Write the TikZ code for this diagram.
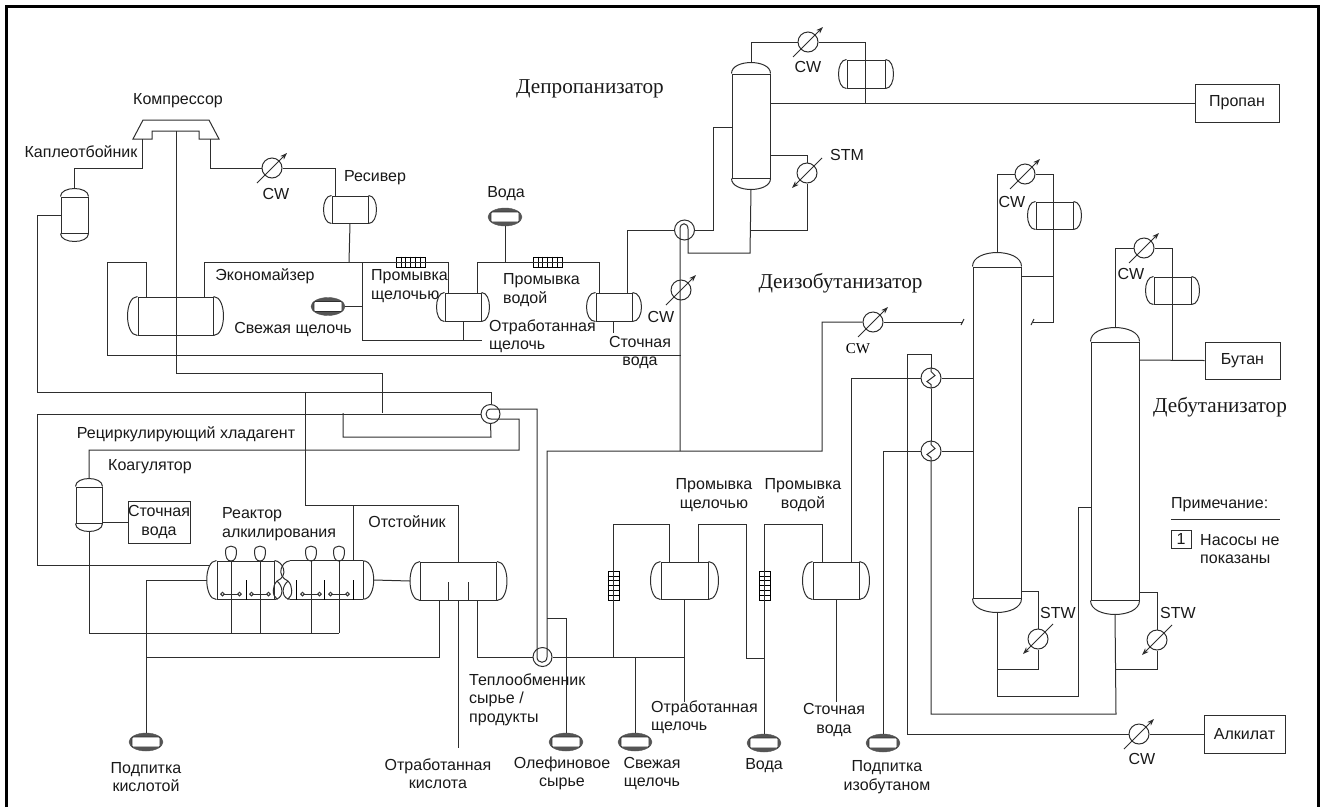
\documentclass[tikz,border=0pt]{standalone}
\usepackage{fontspec}
\setmainfont{Liberation Sans}
\newfontfamily\colfont{Liberation Serif}
\usetikzlibrary{arrows.meta,shapes.geometric}

\definecolor{PipeGray}{HTML}{2E2E2E}
\definecolor{TankGray}{HTML}{555555}

\tikzset{
  pipe/.style={PipeGray, line width=1pt},
  vessel/.style 2 args={draw=PipeGray, line width=1pt, rectangle, inner sep=0pt, minimum width=#1pt, minimum height=#2pt},
  feedtank/.style={ellipse, fill=TankGray, draw=TankGray, inner sep=0pt, minimum width=34pt, minimum height=18pt},
  tankcore/.style={draw=PipeGray, fill=white, line width=0.7pt, rounded corners=1pt, inner sep=0pt, minimum width=28pt, minimum height=10pt},
  cooler/.style={circle, draw=PipeGray, line width=1pt, fill=white, inner sep=0pt, minimum size=20pt},
  tag/.style={font=\fontsize{16}{18.3}\selectfont, align=center, text=black!90, inner sep=0pt},
  leftag/.style={tag, align=left, anchor=west},
  coltag/.style={font=\colfont\fontsize{21.2}{24}\selectfont, text=black!90, inner sep=0pt},
  grid bar/.style={draw=black, line width=0.7pt, fill=white, rectangle, inner sep=0pt},
  tube/.style={-{Stealth[length=7pt,width=5pt]}, PipeGray, line width=1pt}
}

\begin{document}
\begin{tikzpicture}[x=1pt,y=-1pt]
\useasboundingbox (0,0) rectangle (1325,807);

% frame
\draw[black, line width=3pt] (6.5,807) -- (6.5,6.5) -- (1318.5,6.5) -- (1318.5,807);

% vessels
\node[vessel={36}{27}] (rec) at (350,209.5) {};
\node[vessel={75}{38}] (eco) at (175.5,316) {};
\node[vessel={36}{28}] (cdr) at (463,307) {};
\node[vessel={36}{28}] (wdr) at (614,307) {};
\node[vessel={38}{28}] (drf) at (866,74) {};
\node[vessel={37}{27}] (irf) at (1054.5,215.5) {};
\node[vessel={37}{27}] (brf) at (1172.5,290.5) {};
\node[vessel={76}{38}] (set) at (458.5,581) {};
\node[vessel={47}{37}] (cwa) at (684.5,580.5) {};
\node[vessel={46}{37}] (cwb) at (836,580.5) {};
\foreach \n/\d in {rec/8,eco/10,cdr/8,wdr/9,drf/8,irf/8,brf/8,set/10,cwa/10,cwb/10} {
  \draw[pipe] (\n.north west) .. controls +(-1.33*\d,0) and +(-1.33*\d,0) .. (\n.south west);
  \draw[pipe] (\n.north east) .. controls +(1.33*\d,0) and +(1.33*\d,0) .. (\n.south east);
  \coordinate (\n l) at ([shift={(-\d,0)}]\n.west);
  \coordinate (\n r) at ([shift={(\d,0)}]\n.east);
}

% columns
\node[vessel={27}{36}] (ko) at (74.5,215) {};
\node[vessel={26}{36}] (coa) at (89,505) {};
\node[vessel={38}{104}] (dep) at (751,126) {};
\node[vessel={48}{331}] (dei) at (997,432.5) {};
\node[vessel={48}{258}] (deb) at (1115,471) {};
\foreach \n/\d in {ko/8,coa/8,dep/11,dei/14,deb/14} {
  \draw[pipe] (\n.north west) .. controls +(0,-1.33*\d) and +(0,-1.33*\d) .. (\n.north east);
  \draw[pipe] (\n.south west) .. controls +(0,1.33*\d) and +(0,1.33*\d) .. (\n.south east);
  \coordinate (\n t) at ([shift={(0,-\d)}]\n.north);
  \coordinate (\n b) at ([shift={(0,\d)}]\n.south);
}

% compressor
\coordinate (kl) at (142,139);
\coordinate (kr) at (210,139);
\coordinate (kc) at (176,131);
\draw[pipe] (133,139) -- (143,120) -- (209,120) -- (219,139) -- (199,139) -- (199,131) -- (152,131) -- (152,139) -- cycle;

% reactor
\node[vessel={57}{38}] (raa) at (245.5,580) {};
\node[draw=none, inner sep=0pt, minimum width=73pt, minimum height=38pt] (rab) at (326.5,580) {};
\draw[pipe] (rab.north west) -- (rab.north east) (rab.south west) -- (rab.south east) (rab.north east) -- (rab.south east);
\draw[pipe] (raa.north west) .. controls +(-13,0) and +(-13,0) .. (raa.south west);
\draw[pipe] (rab.north east) .. controls +(14,0) and +(14,0) .. (rab.south east);
\draw[pipe] (raa.north east) .. controls +(9,1) and +(12,-5) .. (277,581) .. controls (272,586) and (272,596) .. (277,599) -- (raa.south east);
\draw[pipe] (277,581) .. controls (283,586) and (284,596) .. (277,599);
\draw[pipe] (rab.north west) .. controls +(-9,1) and +(-12,-5) .. (288,581) .. controls (293,586) and (293,596) .. (288,599) -- (rab.south west);
\draw[pipe] (288,581) .. controls (282,586) and (281,596) .. (288,599);
\coordinate (rel) at (207,580);
\coordinate (rer) at (374,580);
\foreach \x in {231,260,311,339} {
  \draw[pipe] (\x-5.5,551) .. controls (\x-5.5,544.5) and (\x+5.5,544.5) .. (\x+5.5,551) .. controls (\x+5.5,557) and (\x+4,561) .. (\x,561) .. controls (\x-4,561) and (\x-5.5,557) .. (\x-5.5,551);
  \draw[pipe] (\x,561) -- (\x,633);
  \draw[pipe] (\x-8.5,594) -- (\x+8.5,594);
  \draw[pipe, fill=white] (\x-8.5,594) circle (1.8pt) (\x+8.5,594) circle (1.8pt);
}
\foreach \x in {246,296,324,353}
  \draw[black, line width=1pt] (\x,580) -- (\x,600);
\foreach \x in {448,468}
  \draw[pipe] (\x,582) -- (\x,600);

% product boxes
\node[vessel={84}{38}, tag] (propan) at (1237,103) {Пропан};
\node[vessel={75}{37}, tag] (butan) at (1242.5,360.5) {Бутан};
\node[vessel={81}{38}, tag] (alkilat) at (1244.5,734) {Алкилат};
\node[vessel={62}{42}, tag] (stok) at (159,522) {Сточная\\вода};

% feed tanks
\node[feedtank] (fshch) at (328,306.5) {};
\node[feedtank] (fvoda) at (505,217) {};
\node[feedtank] (fkis) at (146,742) {};
\node[feedtank] (folef) at (566,742) {};
\node[feedtank] (fsvez) at (635,742) {};
\node[feedtank] (fvodb) at (764,743) {};
\node[feedtank] (fizo) at (883,743) {};
\foreach \n in {fshch,fvoda,fkis,folef,fsvez,fvodb,fizo}
  \node[tankcore] (\n c) at (\n) {};

% coolers
\node[cooler] (ca) at (272,168) {};
\node[cooler] (cb) at (808,42) {};
\node[cooler] (cc) at (681,290) {};
\node[cooler] (cd) at (873,322) {};
\node[cooler] (ce) at (1025,174) {};
\node[cooler] (cf) at (1144,248) {};
\node[cooler] (cg) at (1139,734) {};
\node[cooler] (sa) at (807,173) {};
\node[cooler] (sb) at (1038,639) {};
\node[cooler] (sc) at (1157,640) {};
\foreach \n in {ca,cb,cc,cd,ce,cf,cg}
  \draw[tube] ([shift={(-15,15)}]\n.center) -- ([shift={(15,-15)}]\n.center);
\foreach \n in {sa,sb,sc}
  \draw[tube] ([shift={(15,-15)}]\n.center) -- ([shift={(-15,15)}]\n.center);

% exchangers
\node[cooler, minimum size=19pt] (ea) at (490.5,414) {};
\node[cooler] (eb) at (684.5,230) {};
\node[cooler, minimum size=19pt] (ec) at (542.5,657) {};
\node[cooler] (ed) at (931,378) {};
\node[cooler] (ee) at (931,451) {};
\foreach \n in {ed,ee}
  \draw[pipe] (\n.north) -- ++(0,4) -- ++(4,4) -- ++(-8,6) -- ++(4,3) -- (\n.south);

% static mixers
\node[grid bar, minimum width=29pt, minimum height=10pt] (mia) at (410.5,262) {};
\node[grid bar, minimum width=29pt, minimum height=10pt] (mib) at (547.5,262) {};
\node[grid bar, minimum width=11pt, minimum height=29pt] (mic) at (613.5,585.5) {};
\node[grid bar, minimum width=11pt, minimum height=29pt] (mid) at (765,585.5) {};
\foreach \n in {mia,mib}
  \foreach \s in {-9.6,-4.8,0,4.8,9.6}
    \draw[black, line width=0.6pt] ([shift={(\s,0)}]\n.north) -- ([shift={(\s,0)}]\n.south);
\foreach \n in {mic,mid}
  \foreach \s in {-9.6,-4.8,0,4.8,9.6}
    \draw[black, line width=0.6pt] ([shift={(0,\s)}]\n.west) -- ([shift={(0,\s)}]\n.east);

% compressor loop
\draw[pipe] (kl) -- ++(0,29) -| (kot);
\draw[pipe] (kr) -- ++(0,29) -- (ca.west);
\draw[pipe] (ca.east) -| (335,0 |- rec.north);
\draw[pipe] (ko.west) -| (37,392) -| (491,0 |- ea.north);
\draw[pipe] (kc) |- (382,373) -- (382,413);
\draw[pipe] (ea.west) -| (37,565) -- (210,565);
\draw[pipe] (343,413) |- (491,437) -- (ea.south);
\draw[pipe] (305,392) |- (458,505) -- (458,0 |- set.north);
\draw[pipe] (353,505) -- (353,561);

% economizer
\draw[pipe] (rec.south) -- (349,262);
\draw[pipe] (204,0 |- eco.north) |- (448,262) -- (448,0 |- cdr.north);
\draw[pipe] (362,262) |- (482,340);
\draw[pipe] (463,0 |- cdr.south) -- (463,340);
\draw[pipe] (fshch.east) -- (362,306.5);
\draw[pipe] (146,0 |- eco.north) |- (107,262) |- (681,355);

% water wash
\draw[pipe] (477,0 |- cdr.north) |- (599,262) -- (599,0 |- wdr.north);
\draw[pipe] (fvoda.south) -- (505,262);
\draw[pipe] (613,0 |- wdr.south) -- (613,333);
\draw[pipe] (627,0 |- wdr.north) |- (eb.west);
\draw[pipe] (eb.east) -| (713,127) -- (732,127);
\draw[pipe] (680,451) -- (680,229) .. controls +(0,-7) and +(0,-7) .. (688,229) |- (750,253) -- (depb);
\draw[pipe] (750,230) -| (sa.south);
\draw[pipe] (sa.north) |- (770,155);
\draw[pipe] (dept) |- (cb.west);
\draw[pipe] (cb.east) -| (865,103);
\draw[pipe] (770,103) -- (propan.west);

% feed to deisobutanizer
\draw[pipe] (ec.east) -- (684,657);
\draw[pipe] (500,409) -- (537,409) -- (537,657) .. controls +(0,7) and +(0,7) .. (547,657) -- (547,451) -| (822,322) -- (cd.west);
\draw[pipe] (cd.east) -- (963,322);
\draw[pipe] (961,325) -- (964,319);
\draw[pipe] (500,409) -- (491,409) .. controls +(-6.6,0) and +(-6.6,0) .. (491,419) -| (519,450) -| (coat);
\draw[pipe] (547,618) -| (folef.north);
\draw[pipe] (coa.east |- stok.west) -- (stok.west);
\draw[pipe] (coab) |- (339,633);

% settler and reactor lines
\draw[pipe] (rel) -| (fkis.north);
\draw[pipe] (439,0 |- set.south) |- (146,657);
\draw[pipe] (rer) -- (setl);
\draw[pipe] (458,0 |- set.south) -- (458,748);
\draw[pipe] (477,0 |- set.south) |- (ec.west);

% caustic and water wash below
\draw[pipe] (613.5,657) |- (669,524) -- (669,0 |- cwa.north);
\draw[pipe] (698,0 |- cwa.north) |- (746,524) |- (764,658);
\draw[pipe] (fsvez.north) -- (635,657);
\draw[pipe] (684,0 |- cwa.south) -- (684,702);
\draw[pipe] (fvodb.north) |- (822,524) -- (822,0 |- cwb.north);
\draw[pipe] (851,0 |- cwb.north) |- (ed.west);
\draw[pipe] (836,0 |- cwb.south) -- (836,702);

% deisobutanizer
\draw[pipe] (ed.east) -- (973,378);
\draw[pipe] (fizo.north) |- (ee.west);
\draw[pipe] (ee.east) -- (973,451);
\draw[pipe] (ed.north) |- (907,354) |- (cg.west);
\draw[pipe] (cg.east) -- (alkilat.west);
\draw[pipe] (ed.south) -- (ee.north);
\draw[pipe] (ee.south) |- (1116,714) -- (debb);
\draw[pipe] (deit) |- (ce.west);
\draw[pipe] (ce.east) -| (1053,322) -- (1033,322);
\draw[pipe] (1031,325) -- (1034,319);
\draw[pipe] (1053,276) -- (1021,276);
\draw[pipe] (deib) |- (1078,696) |- (1091,507);
\draw[pipe] (997,669) -| (sb.south);
\draw[pipe] (sb.north) |- (1021,591);

% debutanizer
\draw[pipe] (debt) |- (cf.west);
\draw[pipe] (cf.east) -| (1172,360);
\draw[pipe] (1139,360) -- (butan.west);
\draw[pipe] (1116,669) -| (sc.south);
\draw[pipe] (sc.north) |- (1139,592);

% labels
\node[tag] (tkomp) at (178,101) {Компрессор};
\node[tag] (tkapl) at (81,152) {Каплеотбойник};
\node[tag] (tcwa) at (276,194) {CW};
\node[tag] (tres) at (375,178) {Ресивер};
\node[tag] (teko) at (265,276) {Экономайзер};
\node[leftag] (tpra) at (371,286) {Промывка\\щелочью};
\node[tag] (tsve) at (293,329) {Свежая щелочь};
\node[tag] (tvoa) at (506,194) {Вода};
\node[leftag] (tprb) at (503,290) {Промывка\\водой};
\node[leftag] (tota) at (489,336) {Отработанная\\щелочь};
\node[tag] (tsta) at (640,352.5) {Сточная\\вода};
\node[tag] (tcwb) at (661,317) {CW};
\node[tag] (tcwc) at (808,67) {CW};
\node[tag] (tstm) at (847,155) {STM};
\node[tag] (tcwd) at (1012,202) {CW};
\node[tag] (tcwe) at (1131,274) {CW};
\node[coltag] (tdep) at (590,89) {Депропанизатор};
\node[coltag] (tdei) at (840.5,283) {Деизобутанизатор};
\node[coltag] (tdeb) at (1220,407) {Дебутанизатор};
\node[font=\colfont\fontsize{15}{18}\selectfont, inner sep=0pt] (tcwf) at (858,349) {CW};
\node[tag] (trec) at (186,434) {Рециркулирующий хладагент};
\node[tag] (tkoa) at (150,467) {Коагулятор};
\node[leftag] (trea) at (222,524) {Реактор\\алкилирования};
\node[tag] (tots) at (407,522) {Отстойник};
\node[tag] (tprc) at (714,495) {Промывка\\щелочью};
\node[tag] (tprd) at (803,495) {Промывка\\водой};
\node[leftag] (ttep) at (469,699.5) {Теплообменник\\сырье /\\продукты};
\node[leftag] (totb) at (651,717.5) {Отработанная\\щелочь};
\node[tag] (tstb) at (834,720) {Сточная\\вода};
\node[tag] (tpok) at (146,777) {Подпитка\\кислотой};
\node[tag] (totk) at (438,773.5) {Отработанная\\кислота};
\node[tag] (tole) at (562,773.5) {Олефиновое\\сырье};
\node[tag] (tsvb) at (652,773.5) {Свежая\\щелочь};
\node[tag] (tvob) at (764,766) {Вода};
\node[tag] (tpiz) at (887,777) {Подпитка\\изобутаном};
\node[tag] (tstw) at (1058,613) {STW};
\node[tag] (tstx) at (1178,613) {STW};
\node[tag] (tcwg) at (1142,759) {CW};

% note
\node[leftag] (tpri) at (1171,505) {Примечание:};
\draw[pipe] (1171,519) -- (1280,519);
\node[vessel={20}{18}, tag] (tnum) at (1181,539) {1};
\node[leftag] (tnas) at (1200,549) {Насосы не\\показаны};
\end{tikzpicture}
\end{document}
